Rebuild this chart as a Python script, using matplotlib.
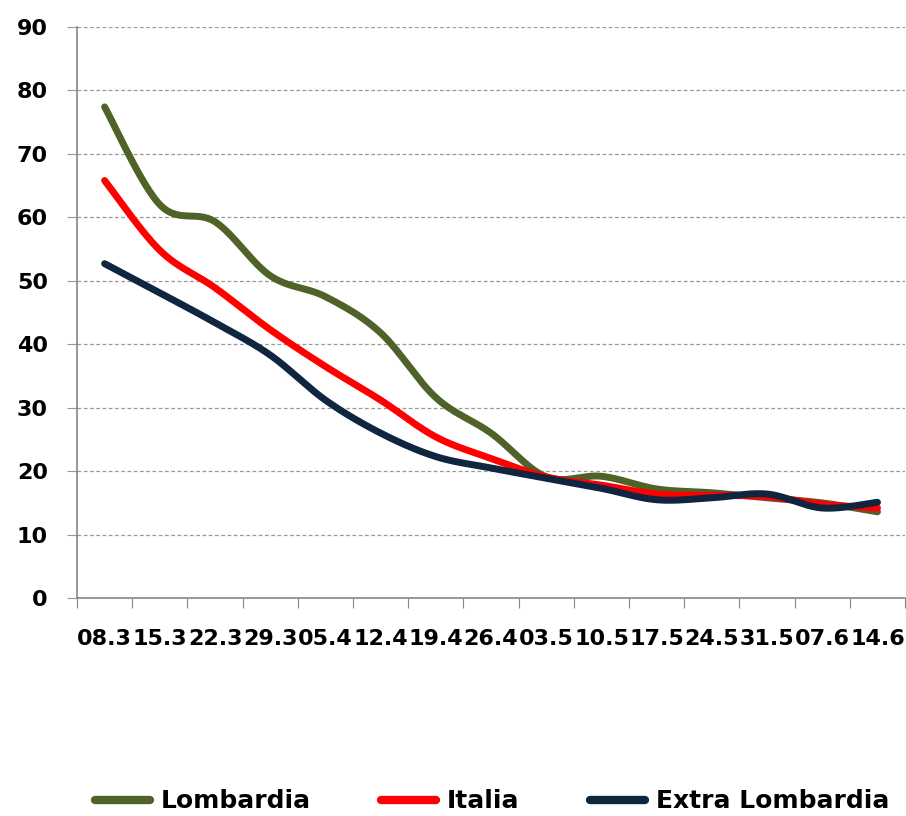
import numpy as np
import matplotlib.pyplot as plt

weeks = ['08.3', '15.3', '22.3', '29.3', '05.4', '12.4', '19.4', '26.4',
         '03.5', '10.5', '17.5', '24.5', '31.5', '07.6', '14.6']

lombardia = [77.4, 62.0, 59.3, 50.8, 47.5, 41.8, 31.6, 26.0,
             19.1, 19.2, 17.2, 16.6, 15.8, 15.0, 13.6]
italia = [65.8, 54.8, 48.9, 42.3, 36.5, 31.2, 25.4, 22.0,
          19.1, 17.8, 16.4, 16.2, 16.0, 14.8, 14.2]
extra_lombardia = [52.7, 48.1, 43.4, 38.3, 31.2, 26.0, 22.3, 20.5,
                   18.9, 17.3, 15.5, 15.8, 16.4, 14.2, 15.1]


def smooth(y, n=30):
    # Excel-like smoothed line (Catmull-Rom through the points)
    y = np.asarray(y, dtype=float)
    x = np.arange(len(y), dtype=float)
    px = np.concatenate([[x[0]], x, [x[-1]]])
    py = np.concatenate([[y[0]], y, [y[-1]]])
    xs, ys = [], []
    t = np.linspace(0, 1, n, endpoint=False)
    for i in range(1, len(px) - 2):
        p0, p1, p2, p3 = (np.array([px[k], py[k]]) for k in range(i - 1, i + 3))
        c1 = p1 + (p2 - p0) / 6
        c2 = p2 - (p3 - p1) / 6
        b = ((1 - t) ** 3)[:, None] * p1 + (3 * (1 - t) ** 2 * t)[:, None] * c1 \
            + (3 * (1 - t) * t ** 2)[:, None] * c2 + (t ** 3)[:, None] * p2
        xs.append(b[:, 0])
        ys.append(b[:, 1])
    xs.append([x[-1]])
    ys.append([y[-1]])
    return np.concatenate(xs), np.concatenate(ys)


fig = plt.figure(figsize=(9.06, 8.16), dpi=100)
ax = fig.add_axes([0.085, 0.267, 0.914, 0.70])

series = [(lombardia, 'Lombardia', '#4F6228'),
          (italia, 'Italia', '#FF0000'),
          (extra_lombardia, 'Extra Lombardia', '#10253F')]
for vals, name, col in series:
    sx, sy = smooth(vals)
    ax.plot(sx, sy, color=col, lw=5, label=name, solid_capstyle='round')

ax.set_xlim(-0.5, len(weeks) - 0.5)
ax.set_ylim(0, 90)
ax.set_yticks(range(0, 91, 10))
ax.yaxis.grid(True, linestyle=(0, (3, 2)), color='#999999', lw=0.9)
ax.set_axisbelow(True)

ax.set_xticks(np.arange(-0.5, len(weeks)), minor=False)
ax.set_xticklabels([])
ax.set_xticks(np.arange(len(weeks)), minor=True)
ax.set_xticklabels(weeks, minor=True)
ax.tick_params(axis='x', which='major', length=7, color='#868686', direction='out')
ax.tick_params(axis='x', which='minor', length=0, pad=22, labelsize=16)
ax.tick_params(axis='y', length=7, color='#999999', pad=14, labelsize=16)
for lab in ax.get_xticklabels(minor=True) + ax.get_yticklabels():
    lab.set_fontweight('bold')

for s in ['top', 'right']:
    ax.spines[s].set_visible(False)
for s in ['left', 'bottom']:
    ax.spines[s].set_color('#868686')
    ax.spines[s].set_linewidth(1.2)

leg = fig.legend(loc='center', bbox_to_anchor=(0.543, 0.018), ncol=3, frameon=False,
                 prop={'weight': 'bold', 'size': 18}, handlelength=2.2,
                 handletextpad=0.45, columnspacing=2.8)
for h in leg.get_lines():
    h.set_linewidth(6)

fig.savefig('out.png', dpi=100)
